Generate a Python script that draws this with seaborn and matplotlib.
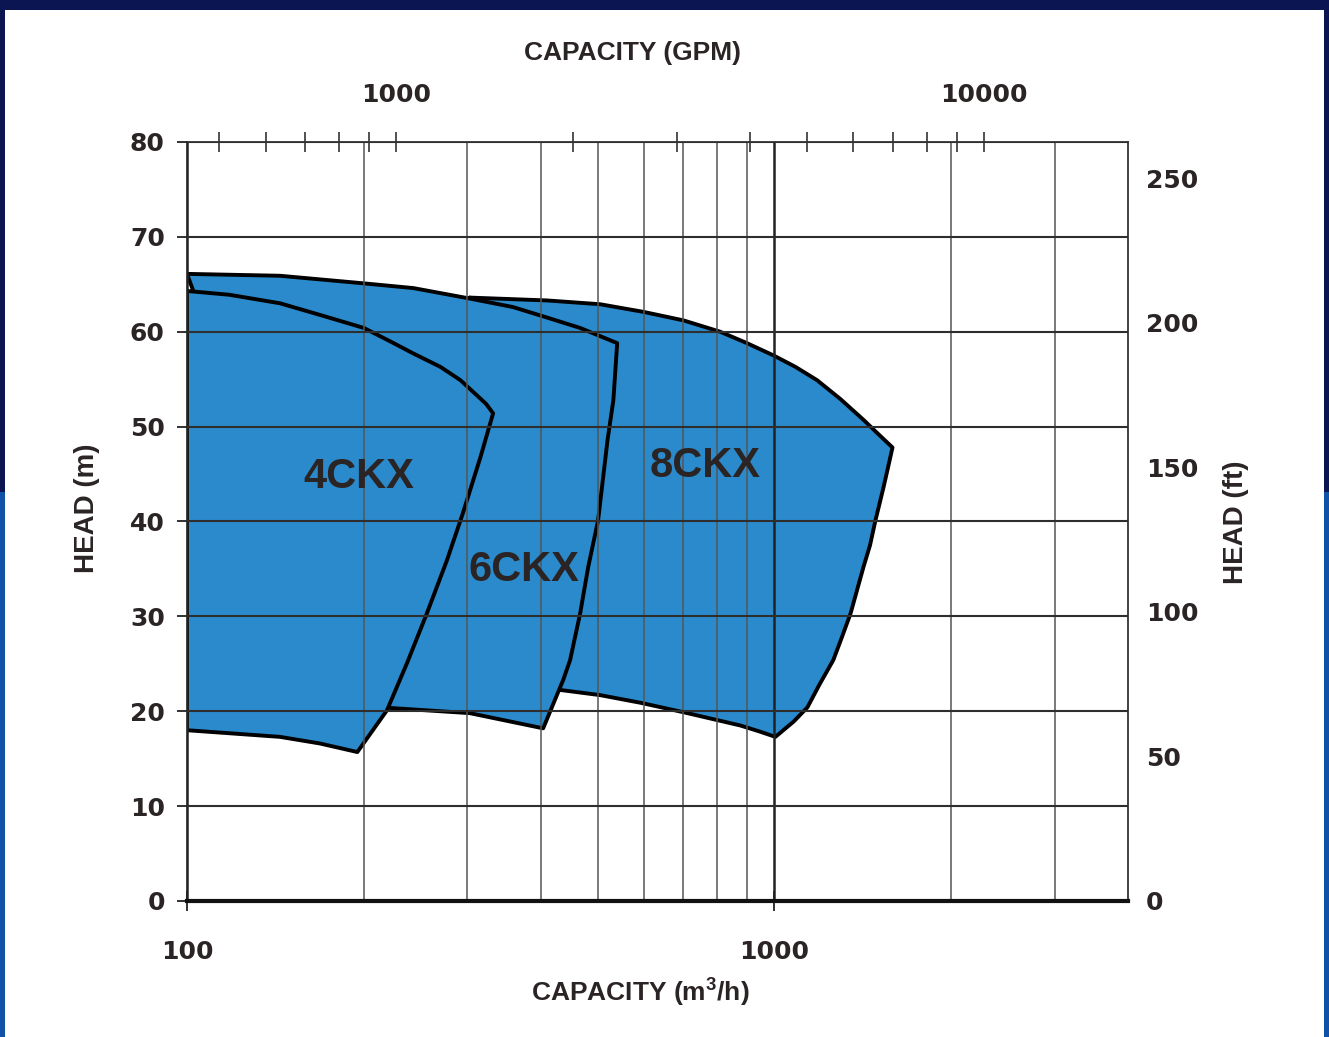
import numpy as np
import pandas as pd
import matplotlib
matplotlib.use('Agg')
import matplotlib.pyplot as plt
import seaborn as sns
from matplotlib.patches import Rectangle

# Pump envelopes: capacity (m3/h) and head (m)
q_4ckx = [100, 118, 144, 170, 200, 220, 243, 270, 292, 309, 323, 332,
          316, 295, 277, 256, 237, 219, 195, 168.5, 144, 100]
h_4ckx = [64.3, 63.9, 63.0, 61.7, 60.4, 59.1, 57.7, 56.3, 54.9, 53.5, 52.4, 51.4,
          46.8, 40.9, 35.9, 30.3, 25.1, 20.1, 15.7, 16.6, 17.3, 18.0]

q_6ckx = [100, 144, 200, 243, 303, 359, 410, 467, 540,
          532, 520, 501, 482, 467, 449, 437, 404,
          303, 215, 160, 102.5]
h_6ckx = [66.1, 65.9, 65.1, 64.6, 63.5, 62.6, 61.5, 60.4, 58.8,
          52.8, 48.6, 40.1, 35.2, 30.3, 25.4, 23.3, 18.2,
          19.8, 20.4, 40.0, 64.3]

q_8ckx = [303, 410, 505, 598, 700, 809, 898, 997, 1086, 1182, 1296, 1419, 1498, 1589,
          1564, 1534, 1486, 1455, 1418, 1348, 1303, 1260, 1193, 1138, 1078, 1004,
          940, 875, 700, 591, 505, 425, 380]
h_8ckx = [63.6, 63.3, 62.9, 62.1, 61.2, 60.0, 58.8, 57.5, 56.3, 54.9, 52.9, 50.7, 49.3, 47.8,
          45.9, 43.6, 40.1, 37.5, 35.2, 30.3, 27.8, 25.4, 22.8, 20.4, 18.9, 17.3,
          17.9, 18.5, 19.9, 20.9, 21.7, 22.3, 40.0]

pump_names = ['8CKX', '6CKX', '4CKX']
label_q = [763, 374, 196]
label_h = [45.9, 34.9, 44.7]

head_ticks_m = [0, 10, 20, 30, 40, 50, 60, 70, 80]
head_ticks_ft = [0, 50, 100, 150, 200, 250]
cap_major = [100, 1000]
cap_grid = [200, 300, 400, 500, 600, 700, 800, 900, 2000, 3000]
gpm_major = [1000, 10000]
gpm_minor = [500, 600, 700, 800, 900, 2000, 3000, 4000, 5000, 6000, 7000, 8000, 9000]

M3H_TO_GPM = 4.40287
M_TO_FT = 3.28084
FILL = '#2a8acb'
TXT = '#2b2424'
NUM_FONT = ['DejaVu Sans']

sns.set_theme(style='white')
plt.rcParams['font.family'] = ['Liberation Sans', 'DejaVu Sans']
plt.rcParams['font.weight'] = 'bold'
plt.rcParams['mathtext.default'] = 'regular'

W, H = 1329, 1037
fig = plt.figure(figsize=(W / 100, H / 100), dpi=100)
fig.patch.set_facecolor('white')

# frame around the picture
navy, blue = '#0b1552', '#0f52a8'
fig.add_artist(Rectangle((0, 1 - 10 / H), 1, 10 / H, transform=fig.transFigure, color=navy, lw=0))
fig.add_artist(Rectangle((0, 0), 5 / W, (H - 492) / H, transform=fig.transFigure, color=blue, lw=0))
fig.add_artist(Rectangle((0, (H - 492) / H), 5 / W, 482 / H, transform=fig.transFigure, color=navy, lw=0))
fig.add_artist(Rectangle((1 - 5 / W, 0), 5 / W, (H - 492) / H, transform=fig.transFigure, color=blue, lw=0))
fig.add_artist(Rectangle((1 - 5 / W, (H - 492) / H), 5 / W, 482 / H, transform=fig.transFigure, color=navy, lw=0))

ax = fig.add_axes([187 / W, 136 / H, 941 / W, 759 / H])
ax.set_facecolor('white')

pumps = [(q_8ckx, h_8ckx), (q_6ckx, h_6ckx), (q_4ckx, h_4ckx)]
for i, (q, h) in enumerate(pumps):
    df = pd.DataFrame({'q': q + q[:1], 'h': h + h[:1]})
    ax.fill(q, h, color=FILL, lw=0, zorder=1 + i * 0.1)
    sns.lineplot(data=df, x='q', y='h', sort=False, estimator=None, color='black',
                 lw=2.8, ax=ax, zorder=1.05 + i * 0.1)
    ax.text(label_q[i], label_h[i], pump_names[i], fontsize=30, fontweight='bold',
            color=TXT, ha='center', va='center', zorder=3)

ax.set_xscale('log')
ax.set_xlim(100, 4000)
ax.set_ylim(0, 80)
ax.set_xlabel('')
ax.set_ylabel('')

ax.set_xticks(cap_major)
ax.set_xticklabels([str(v) for v in cap_major])
ax.set_xticks(cap_grid, minor=True)
ax.set_xticklabels([], minor=True)
ax.set_yticks(head_ticks_m)
ax.set_axisbelow(False)
ax.grid(True, which='minor', axis='x', color='#555555', lw=1.1)
ax.grid(True, which='major', axis='x', color='#222222', lw=1.8)
ax.grid(True, axis='y', color='#2e2e2e', lw=1.5)

ax.tick_params(axis='x', which='major', direction='inout', length=14, width=1.3,
               colors='#222222', labelsize=18, labelcolor=TXT, pad=21,
               labelfontfamily=NUM_FONT)
ax.tick_params(axis='x', which='minor', length=0)
ax.tick_params(axis='y', direction='out', length=7, width=1.3, colors='#222222',
               labelsize=18, labelcolor=TXT, pad=9, left=True, labelfontfamily=NUM_FONT)
for s in ['left', 'right', 'top']:
    ax.spines[s].set_color('#333333')
    ax.spines[s].set_linewidth(1.3)
ax.spines['bottom'].set_color('#111111')
ax.spines['bottom'].set_linewidth(3)
ax.spines['bottom'].set_zorder(3)

# top axis in GPM
axt = ax.twiny()
axt.set_xscale('log')
axt.set_xlim(100 * M3H_TO_GPM, 4000 * M3H_TO_GPM)
axt.set_xticks(gpm_major)
axt.set_xticklabels([str(v) for v in gpm_major])
axt.set_xticks(gpm_minor, minor=True)
axt.set_xticklabels([], minor=True)
axt.tick_params(axis='x', which='both', direction='inout', length=14, width=1.2,
                colors='#333333', labelsize=18, labelcolor=TXT, pad=18, top=True,
                labelfontfamily=NUM_FONT)
axt.grid(False)
for s in axt.spines.values():
    s.set_visible(False)

# right axis in feet
axr = ax.twinx()
axr.set_ylim(0, 80 * M_TO_FT)
axr.set_yticks(head_ticks_ft)
axr.tick_params(axis='y', length=0, labelsize=18, labelcolor=TXT, pad=13,
                labelfontfamily=NUM_FONT)
axr.grid(False)
for s in axr.spines.values():
    s.set_visible(False)

fig.text(633 / W, 1 - 53 / H, 'CAPACITY (GPM)', fontsize=19, color=TXT, ha='center', va='center')
fig.text(640 / W, 1 - 993 / H, 'CAPACITY (m$^3$/h)', fontsize=19, color=TXT, ha='center', va='center')
fig.text(87 / W, 1 - 508 / H, 'HEAD (m)', fontsize=20, color=TXT, ha='center', va='center', rotation=90)
fig.text(1236 / W, 1 - 522 / H, 'HEAD (ft)', fontsize=20, color=TXT, ha='center', va='center', rotation=90)

fig.savefig('out.png', dpi=100)
